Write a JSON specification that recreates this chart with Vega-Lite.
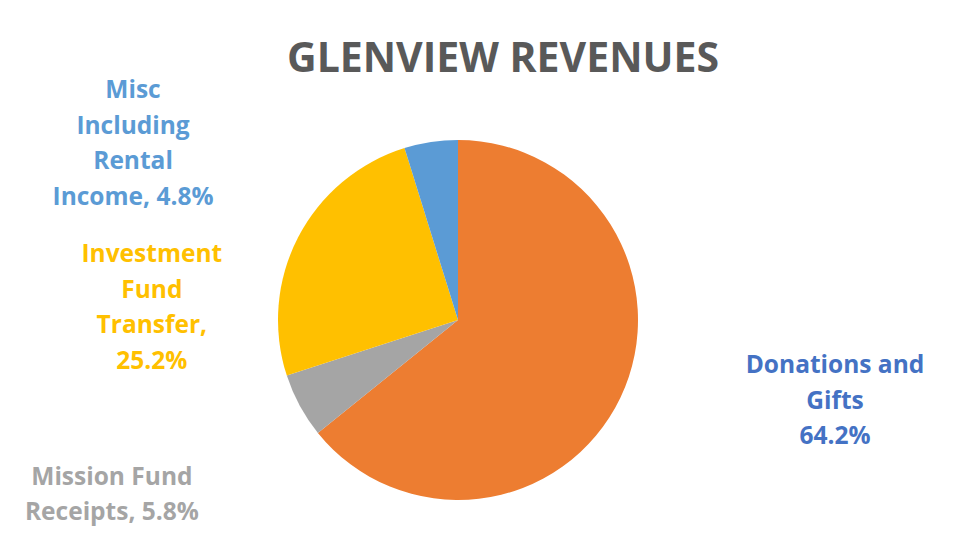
{
  "$schema": "https://vega.github.io/schema/vega-lite/v6.json",
  "width": 360,
  "height": 360,
  "autosize": {"type": "none"},
  "padding": {"left": 278, "top": 140, "right": 334, "bottom": 50},
  "background": "white",
  "config": {"view": {"stroke": null}, "font": "Open Sans"},
  "title": {
    "text": "GLENVIEW REVENUES",
    "font": "Open Sans",
    "fontSize": 41,
    "fontWeight": "bold",
    "color": "#595959",
    "anchor": "middle",
    "dx": 45,
    "offset": -35,
    "baseline": "alphabetic"
  },
  "data": {
    "values": [
      {"slice": 1, "category": "Donations and Gifts", "share": 64.2, "label": "Donations and\nGifts\n64.2%"},
      {"slice": 2, "category": "Mission Fund Receipts", "share": 5.8, "label": "Mission Fund\nReceipts, 5.8%"},
      {"slice": 3, "category": "Investment Fund Transfer", "share": 25.2, "label": "Investment\nFund\nTransfer,\n25.2%"},
      {"slice": 4, "category": "Misc Including Rental Income", "share": 4.8, "label": "Misc\nIncluding\nRental\nIncome, 4.8%"}
    ]
  },
  "transform": [
    {"stack": "share", "groupby": [], "sort": [{"field": "slice", "order": "ascending"}], "as": ["s0", "s1"]}
  ],
  "encoding": {
    "theta": {"field": "s0", "type": "quantitative", "scale": {"domain": [0, 100]}}
  },
  "layer": [
    {
      "mark": {"type": "arc", "outerRadius": 180},
      "encoding": {
        "theta2": {"field": "s1"},
        "color": {
          "field": "category",
          "type": "nominal",
          "scale": {
            "domain": ["Donations and Gifts", "Mission Fund Receipts", "Investment Fund Transfer", "Misc Including Rental Income"],
            "range": ["#ED7D31", "#A5A5A5", "#FFC000", "#5B9BD5"]
          },
          "legend": null
        }
      }
    },
    {
      "transform": [{"filter": "datum.slice === 1"}],
      "mark": {"type": "text", "radius": 180, "dx": 377, "dy": 226, "font": "Open Sans", "fontSize": 24.5, "fontWeight": "bold", "lineHeight": 35.5, "lineBreak": "\n", "align": "center", "baseline": "middle", "color": "#4472C4"},
      "encoding": {"text": {"field": "label"}}
    },
    {
      "transform": [{"filter": "datum.slice === 2"}],
      "mark": {"type": "text", "radius": 180, "dx": -206, "dy": 45, "font": "Open Sans", "fontSize": 24.5, "fontWeight": "bold", "lineHeight": 35.5, "lineBreak": "\n", "align": "center", "baseline": "middle", "color": "#A5A5A5"},
      "encoding": {"text": {"field": "label"}}
    },
    {
      "transform": [{"filter": "datum.slice === 3"}],
      "mark": {"type": "text", "radius": 180, "dx": -135, "dy": -120.5, "font": "Open Sans", "fontSize": 24.5, "fontWeight": "bold", "lineHeight": 35.5, "lineBreak": "\n", "align": "center", "baseline": "middle", "color": "#FFC000"},
      "encoding": {"text": {"field": "label"}}
    },
    {
      "transform": [{"filter": "datum.slice === 4"}],
      "mark": {"type": "text", "radius": 180, "dx": -271.5, "dy": -57, "font": "Open Sans", "fontSize": 24.5, "fontWeight": "bold", "lineHeight": 35.5, "lineBreak": "\n", "align": "center", "baseline": "middle", "color": "#5B9BD5"},
      "encoding": {"text": {"field": "label"}}
    }
  ]
}
